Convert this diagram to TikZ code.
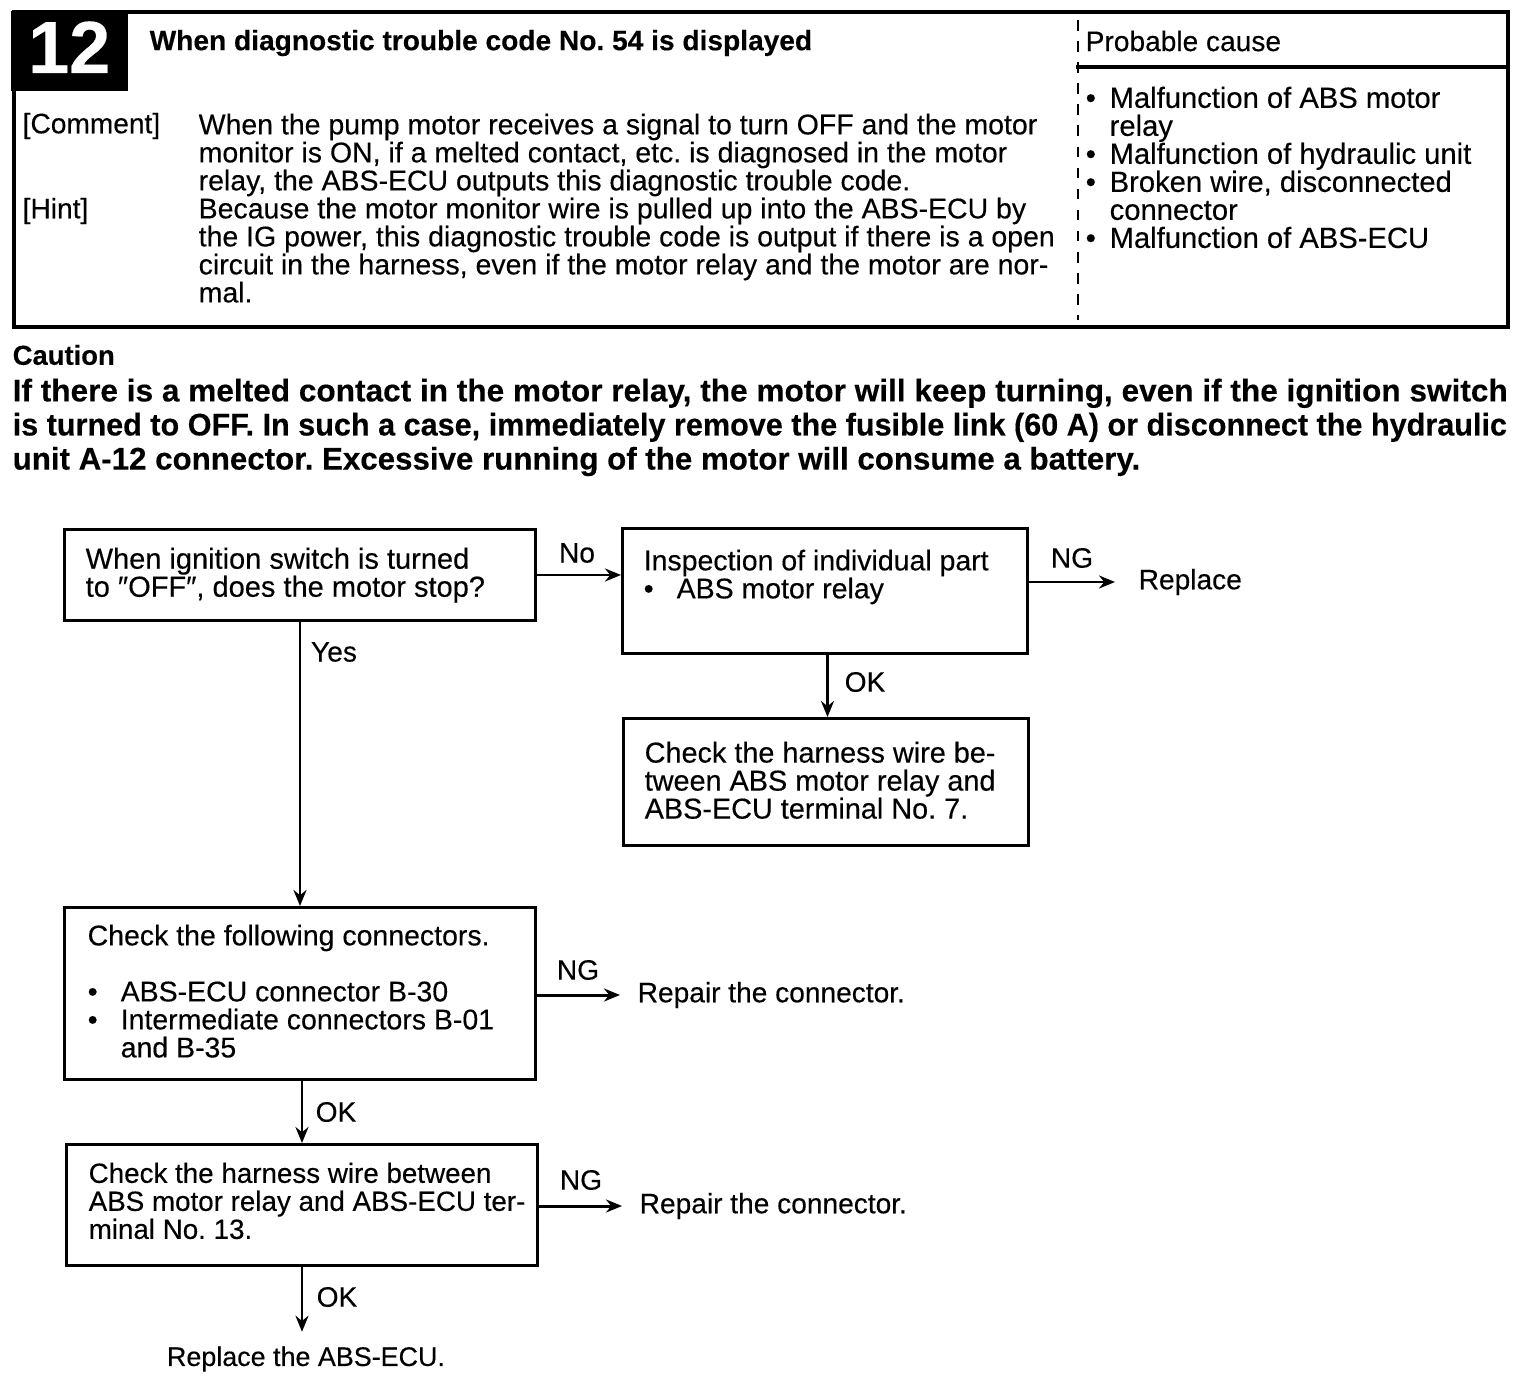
\documentclass[tikz,border=0pt]{standalone}
\usepackage{fontspec}
\setmainfont{Liberation Sans}[FakeBold=0.3]
\usetikzlibrary{arrows.meta,positioning,calc}
\newcommand{\bul}[1]{\makebox[#1][l]{\textbullet}}
\tikzset{
  code/.style={font=\bfseries\fontsize{21}{24}\selectfont,text=white,inner sep=0pt},
  head/.style={font=\bfseries\fontsize{8}{9}\selectfont,anchor=west,inner sep=0pt},
  warn/.style={font=\bfseries\fontsize{8.9}{9.7}\selectfont,align=left,anchor=north west,inner sep=0pt},
  body/.style={font=\fontsize{8.1}{7.97}\selectfont,align=left,anchor=north west,inner sep=0pt},
  lbl/.style={font=\fontsize{8}{8}\selectfont,inner sep=0pt},
  frame/.style={draw,line width=1.1pt,anchor=north west,inner sep=0pt},
  flow/.style={draw,line width=0.85pt,anchor=north west,inner sep=0pt},
  arr/.style={-{Stealth[length=1.6mm,width=1.3mm]},line width=0.85pt}
}
\begin{document}
\frenchspacing
\begin{tikzpicture}[x=1cm,y=1cm]
\path[use as bounding box,fill=white] (0,0) rectangle (15.36,13.76);
% header table
\node[frame,minimum width=14.94cm,minimum height=3.15cm] (table) at (0.12,13.66) {};
\node[fill=black,anchor=north west,minimum width=1.17cm,minimum height=0.8cm,inner sep=0pt] (codebox) at (0.1,13.66) {};
\node[code,yshift=1pt] (codeno) at (codebox.center) {12};
\node[head] (heading) at (1.49,13.33) {When diagnostic trouble code No. 54 is displayed};
\node[lbl,anchor=west] (cause) at (10.85,13.35) {Probable cause};
\coordinate (divtop) at (10.78,13.56);
\coordinate (divbot) at (10.78,10.56);
\draw[dashed,line width=0.5pt] (divtop)--(divbot);
\coordinate (rulel) at (10.76,13.09);
\draw[line width=0.9pt] (rulel)--(rulel-|table.east);
\node[lbl,anchor=west] (comment) at (0.22,12.50) {[Comment]};
\node[lbl,anchor=west] (hint) at (0.22,11.65) {[Hint]};
\node[body] (bodytext) at (1.98,12.63) {When the pump motor receives a signal to turn OFF and the motor\\monitor is ON, if a melted contact, etc. is diagnosed in the motor\\relay, the ABS-ECU outputs this diagnostic trouble code.\\Because the motor monitor wire is pulled up into the ABS-ECU by\\the IG power, this diagnostic trouble code is output if there is a open\\circuit in the harness, even if the motor relay and the motor are nor-\\mal.};
\node[body,font=\fontsize{8.3}{7.97}\selectfont] (causes) at (10.85,12.90) {\bul{0.24cm}Malfunction of ABS motor\\\hspace*{0.24cm}relay\\\bul{0.24cm}Malfunction of hydraulic unit\\\bul{0.24cm}Broken wire, disconnected\\\hspace*{0.24cm}connector\\\bul{0.24cm}Malfunction of ABS-ECU};
% caution
\node[head,font=\bfseries\fontsize{7.8}{9}\selectfont] (caution) at (0.12,10.21) {Caution};
\node[warn] (warning) at (0.12,9.98) {\scalebox{1.01}[1]{If there is a melted contact in the motor relay, the motor will keep turning, even if the ignition switch}\\\scalebox{0.978}[1]{is turned to OFF. In such a case, immediately remove the fusible link (60 A) or disconnect the hydraulic}\\unit A-12 connector. Excessive running of the motor will consume a battery.};
% flow boxes
\node[flow,minimum width=4.71cm,minimum height=0.91cm] (stop) at (0.63,8.48) {};
\node[body,font=\fontsize{8.25}{7.97}\selectfont] (stoptext) at (0.85,8.29) {When ignition switch is turned\\to ″OFF″, does the motor stop?};
\node[flow,minimum width=4.05cm,minimum height=1.25cm] (part) at (6.21,8.49) {};
\node[body] (parttext) at (6.43,8.27) {Inspection of individual part\\\bul{0.33cm}ABS motor relay};
\node[flow,minimum width=4.05cm,minimum height=1.27cm] (wire) at (6.22,6.59) {};
\node[body,font=\fontsize{8.2}{7.97}\selectfont] (wiretext) at (6.44,6.35) {Check the harness wire be-\\tween ABS motor relay and\\ABS-ECU terminal No. 7.};
\node[flow,minimum width=4.71cm,minimum height=1.72cm] (conn) at (0.63,4.70) {};
\node[body] (conntext) at (0.87,4.52) {Check the following connectors.\\[7.97pt]\bul{0.33cm}ABS-ECU connector B-30\\\bul{0.33cm}Intermediate connectors B-01\\\hspace*{0.33cm}and B-35};
\node[flow,minimum width=4.71cm,minimum height=1.21cm] (harness) at (0.65,2.33) {};
\node[body,font=\fontsize{7.9}{7.97}\selectfont] (harnesstext) at (0.88,2.14) {Check the harness wire between\\ABS motor relay and ABS-ECU ter-\\minal No. 13.};
% results
\node[lbl,anchor=west] (replace) at (11.38,7.94) {Replace};
\node[lbl,anchor=west] (repaira) at (6.37,3.81) {Repair the connector.};
\node[lbl,anchor=west] (repairb) at (6.39,1.70) {Repair the connector.};
\node[lbl,font=\fontsize{7.65}{8}\selectfont] (final) at (3.06,0.17) {Replace the ABS-ECU.};
% connectors
\draw[arr] (stop.east)--(stop.east-|part.west);
\draw[arr,shorten >=0.23cm] (replace.west-|part.east)--(replace.west);
\draw[arr] (stop.south)--(conn.north);
\draw[arr] ([xshift=0.025cm]part.south)--([xshift=0.025cm]part.south|-wire.north);
\draw[arr,shorten >=0.17cm] (repaira.west-|conn.east)--(repaira.west);
\draw[arr] (harness.north|-conn.south)--(harness.north);
\draw[arr,shorten >=0.17cm] (repairb.west-|harness.east)--(repairb.west);
\draw[arr,shorten >=0.14cm] (harness.south)--(harness.south|-final.north);
\node[lbl] (lblno) at (5.77,8.23) {No};
\node[lbl] (lblnga) at (10.72,8.18) {NG};
\node[lbl] (lblyes) at (3.34,7.24) {Yes};
\node[lbl] (lblokc) at (8.65,6.94) {OK};
\node[lbl] (lblngb) at (5.78,4.06) {NG};
\node[lbl] (lbloka) at (3.36,2.64) {OK};
\node[lbl] (lblngc) at (5.81,1.96) {NG};
\node[lbl] (lblokb) at (3.37,0.79) {OK};
\end{tikzpicture}
\end{document}
